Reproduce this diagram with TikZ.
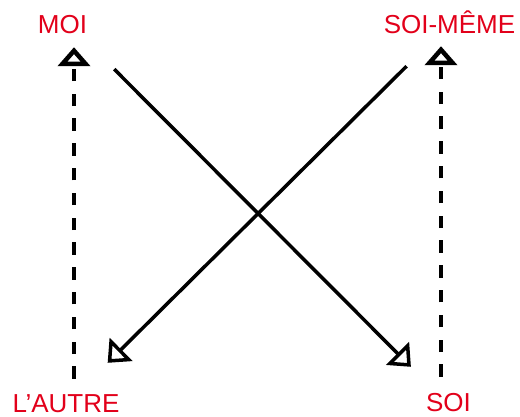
\documentclass[tikz,border=0pt]{standalone}
\usepackage{fontspec}
\setmainfont{Liberation Sans}
\usetikzlibrary{arrows.meta}
\definecolor{lblred}{RGB}{226,0,26}
\tikzset{
  lbl/.style={text=lblred, font=\fontsize{26}{28}\selectfont, inner sep=0pt,
    text height=19pt, text depth=0pt, anchor=base},
  opentip/.style={-{Triangle[open, length=19pt, width=32pt]}},
  dasharrow/.style={opentip, line width=4.5pt, dash pattern=on 12.5pt off 12.3pt},
  crossarrow/.style={opentip, line width=3.5pt}
}
\begin{document}
\begin{tikzpicture}[x=1pt, y=-1pt]
    \useasboundingbox (0,0) rectangle (520,416);
    \node[lbl] (moi) at (62.5,33) {MOI};
    \node[lbl] (meme) at (449.5,33) {SOI-MÊME};
    \node[lbl] (autre) at (66,412) {L’AUTRE};
    \node[lbl] (soi) at (448.5,411) {SOI};
    % vertical links
    \draw[dasharrow] ([shift={(8,-14)}]autre.north) -- ([shift={(11.5,14)}]moi.south);
    \draw[dasharrow] ([shift={(-7.5,-15)}]soi.north) -- ([shift={(-8.5,13)}]meme.south);
    % crossing links
    \draw[crossarrow] ([shift={(27,36)}]moi.south east) -- ([shift={(-15,-25)}]soi.north west);
    \draw[crossarrow] ([shift={(23,33)}]meme.south west) -- ([shift={(-12,-30)}]autre.north east);
\end{tikzpicture}
\end{document}
